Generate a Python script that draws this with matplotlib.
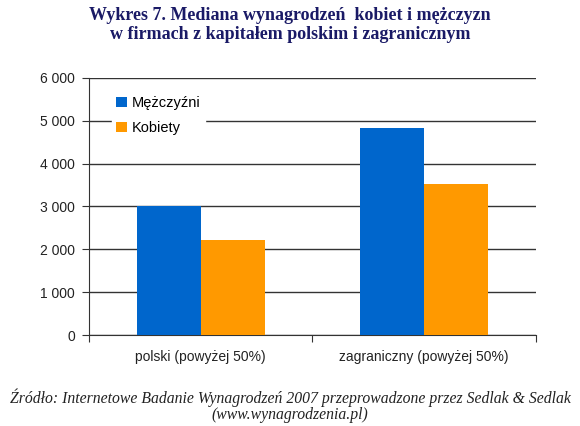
import matplotlib.pyplot as plt
import numpy as np

# data
categories = ['polski (powyżej 50%)', 'zagraniczny (powyżej 50%)']
men = [3000, 4830]
women = [2220, 3530]
series_names = ['Mężczyźni', 'Kobiety']
yticks = [0, 1000, 2000, 3000, 4000, 5000, 6000]
ytick_labels = ['0', '1 000', '2 000', '3 000', '4 000', '5 000', '6 000']

fig = plt.figure(figsize=(5.8, 4.26), dpi=100)
ax = fig.add_axes([0.1534, 0.2136, 0.7706, 0.6034])

x = np.arange(len(categories))
w = 0.286
ax.bar(x - w / 2, men, w, color='#0066CC', label=series_names[0], zorder=3)
ax.bar(x + w / 2, women, w, color='#FF9900', label=series_names[1], zorder=3)

ax.set_xlim(-0.5, 1.5)
ax.set_ylim(0, 6000)
ax.set_yticks(yticks)
ax.set_yticklabels(ytick_labels)
ax.yaxis.grid(True, color='#333333', linewidth=1.0, zorder=0)

# category separator ticks on the x axis
ax.set_xticks([-0.5, 0.5, 1.5])
ax.set_xticklabels([])
ax.set_xticks(x, minor=True)
ax.set_xticklabels(categories, minor=True)
ax.tick_params(axis='x', which='minor', length=0, pad=11)
ax.tick_params(axis='x', which='major', length=5, direction='out', color='#333333')
ax.tick_params(axis='y', length=5, color='#333333', pad=5)
for lab in ax.get_xticklabels(minor=True) + ax.get_yticklabels():
    lab.set_fontfamily('Liberation Sans')
    lab.set_fontsize(10)
    lab.set_color('#222222')

for s in ['top', 'right']:
    ax.spines[s].set_visible(False)
ax.spines['left'].set_color('#333333')
ax.spines['bottom'].set_color('#333333')

leg = ax.legend(loc='upper left', bbox_to_anchor=(0.035, 0.975), frameon=True,
                fancybox=False, edgecolor='white', framealpha=1,
                handlelength=0.75, handleheight=0.75, handletextpad=0.3,
                borderpad=0.3, labelspacing=0.75,
                prop={'family': 'Liberation Sans', 'size': 10.5})
leg.set_zorder(5)

fig.text(0.5, 0.983, 'Wykres 7. Mediana wynagrodzeń  kobiet i mężczyzn\n'
         'w firmach z kapitałem polskim i zagranicznym',
         ha='center', va='top', fontfamily='Liberation Serif', fontweight='bold',
         fontsize=13, color='#1a1a66', linespacing=1.15)

fig.text(0.5, 0.088, 'Źródło: Internetowe Badanie Wynagrodzeń 2007 przeprowadzone przez Sedlak & Sedlak\n'
         '(www.wynagrodzenia.pl)',
         ha='center', va='top', fontfamily='Liberation Serif', style='italic',
         fontsize=11.3, color='#222222', linespacing=1.0)

fig.savefig('out.png', dpi=100)
